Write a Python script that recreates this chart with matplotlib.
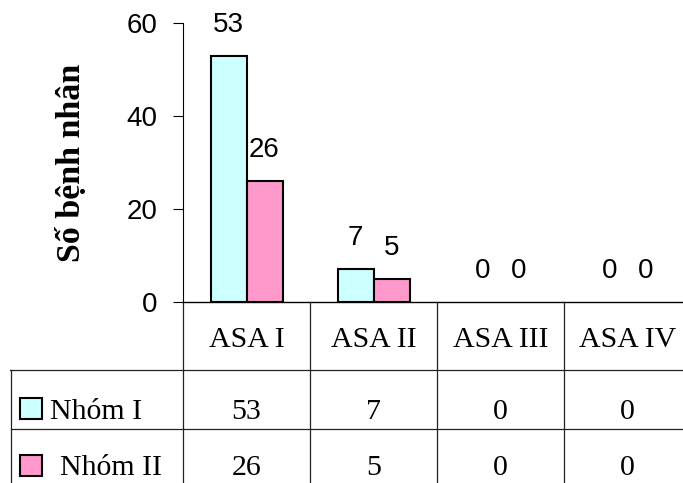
import numpy as np
import matplotlib
matplotlib.use("Agg")
import matplotlib.pyplot as plt
from matplotlib.patches import Rectangle
from matplotlib.transforms import blended_transform_factory

categories = ["ASA I", "ASA II", "ASA III", "ASA IV"]
series_names = ["Nhóm I", "Nhóm II"]
nhom1 = [53, 7, 0, 0]
nhom2 = [26, 5, 0, 0]
colors = ["#CCFFFF", "#FF99CC"]
y_ticks = [0, 20, 40, 60]

W, H = 683, 483
SANS = ["Liberation Sans", "DejaVu Sans"]
SERIF = ["Liberation Serif", "DejaVu Serif"]
TABLE_FS = 21.5


def main():
    fig = plt.figure(figsize=(W / 100, H / 100), dpi=100)

    # pixel overlay used for the data table underneath the bars
    ov = fig.add_axes([0, 0, 1, 1])
    ov.set_xlim(0, W)
    ov.set_ylim(H, 0)
    ov.axis("off")

    ax = fig.add_axes([183 / W, 1 - 302 / H, (691 - 183) / W, (302 - 23) / H])
    ax.patch.set_visible(False)

    x = np.arange(len(categories))
    w = 36 / 127
    series = [nhom1, nhom2]
    for k, (vals, c) in enumerate(zip(series, colors)):
        pos = x + (k - 0.5) * w
        bars = ax.bar(pos, vals, w, color=c, edgecolor="black", linewidth=1.5, zorder=3)
        for b, v in zip(bars, vals):
            if v == 0:
                b.set_linewidth(0)
        for p, v in zip(pos, vals):
            ax.annotate(str(v), (p, v), xytext=(0, 31), textcoords="offset pixels",
                        ha="center", va="center", fontsize=20, family=SANS)

    ax.set_xlim(-0.5, len(categories) - 0.5)
    ax.set_ylim(0, 60)
    ax.set_yticks(y_ticks)
    ax.set_xticks([])
    ax.tick_params(axis="y", length=10 * 0.72, width=0.8, pad=11, labelsize=20)
    for lab in ax.get_yticklabels():
        lab.set_family(SANS)
    for s in ["top", "right"]:
        ax.spines[s].set_visible(False)
    ax.spines["left"].set_linewidth(0.8)
    ax.spines["bottom"].set_linewidth(1.0)

    fig.text(72 / W, 1 - 163 / H, "Số bệnh nhân", rotation=90, ha="center",
             va="center", family=SERIF, weight="bold", fontsize=24.5)

    # data table
    tr = blended_transform_factory(ax.transData, ov.transData)
    line_kw = dict(color="#222222", linewidth=0.9)
    for xb in np.arange(len(categories) + 1) - 0.5:
        ov.plot([xb, xb], [302, H], transform=tr, clip_on=False, **line_kw)
    ov.plot([10, W], [370, 370], **line_kw)
    ov.plot([11, W], [429, 429], **line_kw)
    ov.plot([11, 11], [370, H], **line_kw)

    for i, cat in enumerate(categories):
        ov.text(i, 347, cat, transform=tr, ha="center", va="baseline",
                family=SERIF, fontsize=TABLE_FS)
    row_base = [419, 475]
    for vals, yb in zip(series, row_base):
        for i, v in enumerate(vals):
            ov.text(i, yb, str(v), transform=tr, ha="center", va="baseline",
                    family=SERIF, fontsize=TABLE_FS)

    key_y = [398, 455]
    label_x = [50, 60]
    for name, c, ky, lx, yb in zip(series_names, colors, key_y, label_x, row_base):
        ov.add_patch(Rectangle((20, ky), 22, 21, facecolor=c, edgecolor="black",
                               linewidth=1.5))
        ov.text(lx, yb, name, ha="left", va="baseline", family=SERIF,
                fontsize=TABLE_FS)

    fig.savefig("out.png", dpi=100)


if __name__ == "__main__":
    main()
